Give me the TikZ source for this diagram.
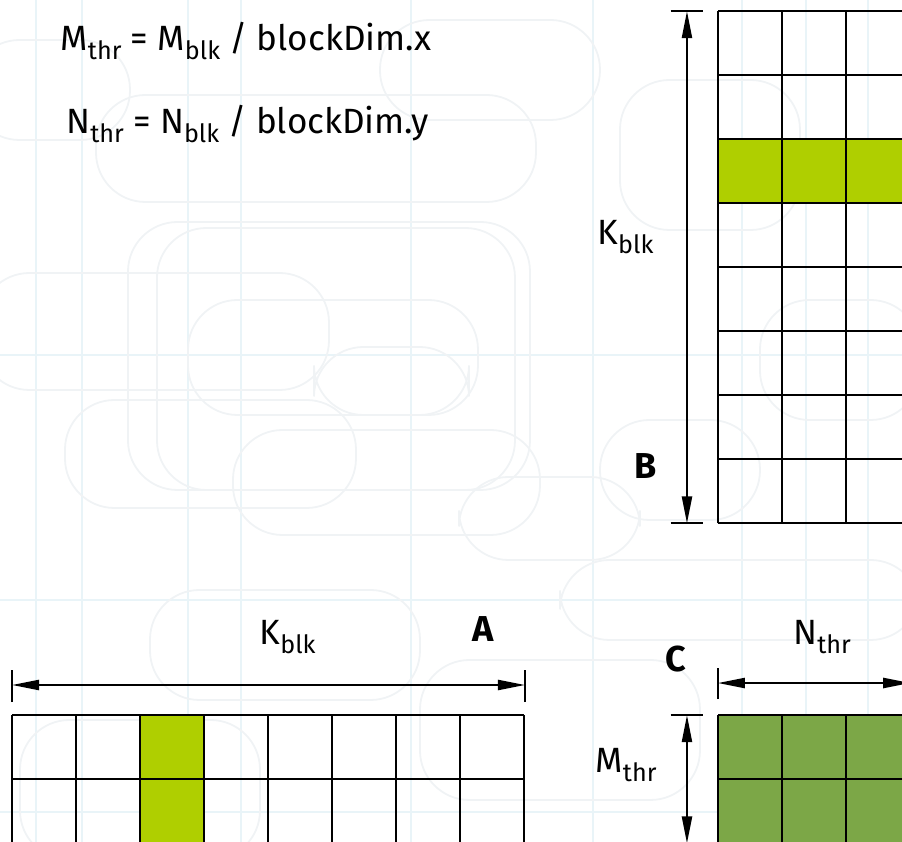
\documentclass[tikz,border=0pt]{standalone}
\usepackage{fontspec}
\setmainfont{Fira Sans}
\usetikzlibrary{arrows.meta}
\definecolor{blkgreen}{HTML}{AFCF00}
\definecolor{thrgreen}{HTML}{7CA747}
\definecolor{bgvert}{HTML}{E9F4F8}
\definecolor{bground}{HTML}{F0F3F5}
\newcommand{\sbs}[1]{\raisebox{-4pt}{\fontsize{11.2}{13}\selectfont #1}}

\begin{document}
\begin{tikzpicture}[>={Triangle[length=4.2mm,width=1.6mm]},
   gridcells/.style={line width=0.9pt},
   dimline/.style={<->, line width=0.7pt},
   tickline/.style={line width=0.8pt},
   lbl/.style={inner sep=0pt, anchor=base west, font=\fontsize{15.6}{18}\selectfont},
   mname/.style={inner sep=0pt, font=\fontsize{16}{18}\selectfont\bfseries}]
  \useasboundingbox (0,0.02) rectangle (14.094,13.176);
  \clip (0,0.02) rectangle (14.094,13.176);
  % background pattern
  \begin{scope}[x=1cm/64, y=-1cm/64, yshift=13.176cm]
    \foreach \xv in {36,82,188,241,411,593,742,806,868}
      \draw[bgvert, line width=1pt] (\xv,0) -- (\xv,842);
    \foreach \yv in {355,600,812}
      \draw[bgvert, line width=0.8pt] (0,\yv) -- (902,\yv);
    \foreach \xa/\ya/\xb/\yb in {96/95/536/202, 128/222/530/490, 157/228/515/490,
        188/300/478/415, -20/273/329/390, 65/400/356/508, 233/430/540/535,
        314/347/469/415, 459/477/640/560, -30/40/130/140, 380/20/600/120,
        150/590/420/700, 560/560/920/640, 420/660/700/800, 620/80/800/230,
        760/300/920/420, 20/720/260/860, 600/420/760/520}
      \draw[bground, line width=0.8pt, rounded corners=22] (\xa,\ya) rectangle (\xb,\yb);
  \end{scope}
  % equations
  \node[lbl] (eqm) at (0.94,12.38) {M\sbs{thr} = M\sbs{blk} / blockDim.x};
  \node[lbl] (eqn) at (1.03,11.09) {N\sbs{thr} = N\sbs{blk} / blockDim.y};
  % matrix B
  \fill[blkgreen] (11.22,10) rectangle (14.22,11);
  \draw[gridcells, shift={(11.22,5)}] (0,0) grid (3,8);
  \coordinate (btop) at (10.734,13);
  \coordinate (bbot) at (10.734,5);
  \draw[tickline] (10.48,13) -- (10.98,13);
  \draw[tickline] (10.48,5) -- (10.98,5);
  \draw[dimline] (btop) -- (bbot);
  \node[lbl] (kb) at (9.33,9.363) {K\sbs{blk}};
  \node[mname] (nameb) at (10.08,5.895) {B};
  % matrix A
  \fill[blkgreen] (2.19,0) rectangle (3.19,2);
  \draw[gridcells, shift={(0.19,0)}] (0,0) grid (8,2);
  \coordinate (aleft) at (0.19,2.473);
  \coordinate (aright) at (8.2,2.473);
  \draw[tickline] (0.19,2.207) -- (0.19,2.707);
  \draw[tickline] (8.2,2.207) -- (8.2,2.707);
  \draw[dimline] (aleft) -- (aright);
  \node[lbl] (ka) at (4.05,3.113) {K\sbs{blk}};
  \node[mname] (namea) at (7.55,3.348) {A};
  % matrix C
  \fill[thrgreen] (11.22,0) rectangle (14.22,2);
  \draw[gridcells, shift={(11.22,0)}] (0,0) grid (3,2);
  \coordinate (cleft) at (11.22,2.504);
  \coordinate (cright) at (14.22,2.504);
  \draw[tickline] (11.22,2.254) -- (11.22,2.738);
  \draw[dimline] (cleft) -- (cright);
  \coordinate (ctop) at (10.734,2);
  \coordinate (cbot) at (10.734,0);
  \draw[tickline] (10.48,2) -- (10.98,2);
  \draw[dimline] (ctop) -- (cbot);
  \node[lbl] (nc) at (12.39,3.113) {N\sbs{thr}};
  \node[lbl] (mc) at (9.30,1.098) {M\sbs{thr}};
  \node[mname] (namec) at (10.56,2.879) {C};
\end{tikzpicture}
\end{document}
